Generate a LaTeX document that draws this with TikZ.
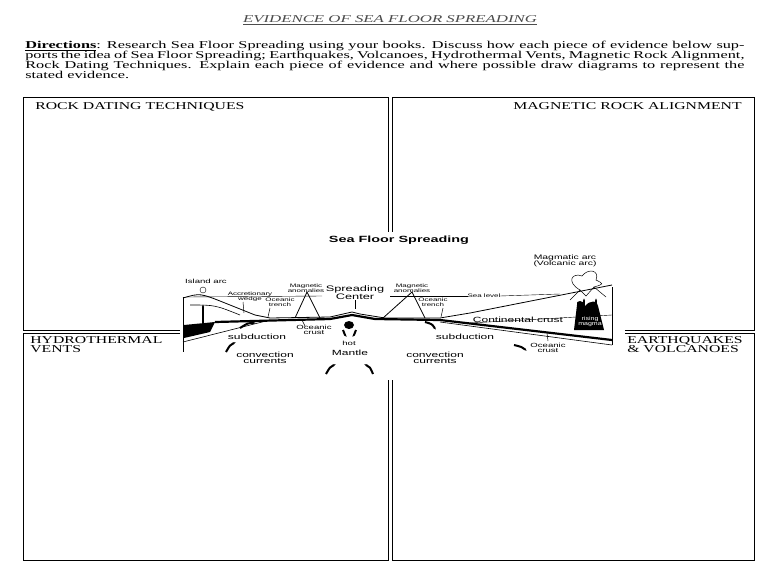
\documentclass[tikz,border=0pt]{standalone}
\usepackage{fontspec}
\setmainfont{Liberation Serif}
\setsansfont{Liberation Sans}
\usepackage{tikz}
\usetikzlibrary{arrows.meta}

\tikzset{
  boxlabel/.style={font=\fontsize{10.5}{9.5}\selectfont, inner sep=0pt, xscale=1.5},
  figlabel/.style={font=\sffamily\fontsize{5}{5}\selectfont, align=center, inner sep=0pt, xscale=1.6},
  biglabel/.style={figlabel, font=\sffamily\fontsize{7.5}{6.5}\selectfont},
  pointer/.style={line width=0.5pt},
  current/.style={line width=2pt, -{Latex[length=3pt]}}
}

\begin{document}
\begin{tikzpicture}[x=1pt, y=-1pt]
  % Page frame
  \useasboundingbox (0,0) rectangle (768,576);
  \fill[white] (0,0) rectangle (768,576);
  % Header
  \node[font=\itshape\fontsize{10.5}{10}\selectfont, text=black!70, xscale=1.6] (title) at (390,20) {\underline{EVIDENCE OF SEA FLOOR SPREADING}};
  \node[anchor=north west, inner sep=0pt, text width=464pt, align=justify, xscale=1.55,
        font=\fontsize{10.5}{10}\selectfont] (directions) at (25,41)
       {\textbf{\underline{Directions}}: Research Sea Floor Spreading using your books. Discuss how each piece of evidence below supports the idea of Sea Floor Spreading; Earthquakes, Volcanoes, Hydrothermal Vents, Magnetic Rock Alignment, Rock Dating Techniques. Explain each piece of evidence and where possible draw diagrams to represent the stated evidence.};
  % Four answer boxes
  \draw[line width=0.8pt] (23,97) rectangle (388,330);
  \draw[line width=0.8pt] (392,97) rectangle (754,330);
  \draw[line width=0.8pt] (23,333) rectangle (388,560);
  \draw[line width=0.8pt] (392,333) rectangle (754,560);
  \node[boxlabel, anchor=north west] (rock) at (35,102) {ROCK DATING TECHNIQUES};
  \node[boxlabel, anchor=north east] (magnetic) at (742,102) {MAGNETIC ROCK ALIGNMENT};
  \node[boxlabel, anchor=north west, align=left] (hydro) at (30,336) {HYDROTHERMAL\\VENTS};
  \node[boxlabel, anchor=north west, align=left] (quake) at (627,336) {EARTHQUAKES\\\& VOLCANOES};
  % Diagram panel
  \fill[white] (180,232) rectangle (625,380);
  \node[font=\sffamily\bfseries\fontsize{9}{9}\selectfont, xscale=1.6] (figtitle) at (399,240) {Sea Floor Spreading};
  % Cross-section frame
  \draw[line width=0.8pt] (183,297) -- (183,352);
  \draw[line width=0.8pt] (612,287) -- (612,345);
  % Sea level
  \draw[line width=0.4pt] (186,297) -- (322,296);
  \draw[line width=0.4pt] (390,296) -- (468,296);
  \draw[line width=0.4pt] (500,296) -- (560,294);
  % Sea floor and continent
  \draw[line width=0.8pt] (183,298) .. controls (200,293) .. (225,303) -- (255,315) -- (270,318)
        -- (330,317) -- (352,312) -- (360,314) -- (385,318) -- (440,318) -- (470,313) -- (612,285);
  \draw[line width=0.6pt] (190,305) .. controls (215,305) .. (240,315);
  % Oceanic crust band
  \draw[line width=2.2pt] (215,322) -- (330,319) -- (352,315) -- (375,319) -- (440,320) -- (612,340);
  \draw[line width=0.6pt] (270,320) -- (183,342);
  \draw[line width=0.6pt] (440,322) -- (612,345);
  \draw[line width=0.4pt] (470,323) -- (612,315);
  % Island arc side
  \fill[black] (184,325) -- (215,322) -- (210,332) -- (184,338) -- cycle;
  \draw[current] (203,325) -- (203,304);
  \draw (203,290) circle (3pt);
  % Magnetic anomalies
  \draw[line width=0.8pt] (295,318) -- (307,292) -- (320,318);
  \draw[line width=0.8pt] (383,318) -- (412,292) -- (425,318);
  % Hot mantle plume
  \fill[black] (349,325) ellipse (5pt and 4pt);
  % Volcanoes and rising magma
  \draw[line width=0.5pt] (570,300) -- (580,290) -- (586,296) -- (594,287) -- (606,297);
  \draw[line width=0.5pt] (580,290) .. controls (566,282) and (572,272) .. (582,276)
        .. controls (588,268) and (600,270) .. (596,280) .. controls (604,284) .. (594,287);
  \fill[black] (577,305) .. controls (575,300) and (584,299) .. (585,306)
        .. controls (590,300) and (598,300) .. (598,306) -- (604,330) -- (574,330) -- cycle;
  \draw[current] (584,312) -- (584,298);
  \draw[current] (596,312) -- (596,298);
  % Convection currents
  \draw[current] (226,352) .. controls (230,345) .. (236,342);
  \draw[current] (240,328) .. controls (248,323) .. (256,323);
  \draw[current] (326,374) .. controls (330,367) .. (336,364);
  \draw[current] (373,374) .. controls (370,367) .. (364,364);
  \draw[current] (343,330) .. controls (345,335) .. (347,337);
  \draw[current] (356,330) .. controls (354,335) .. (352,337);
  \draw[current] (425,322) .. controls (432,324) .. (436,330);
  \draw[current] (514,345) .. controls (522,347) .. (527,351);
  % Pointers
  \draw[pointer] (355,300) -- (355,309);
  \draw[pointer] (270,308) -- (268,317);
  \draw[pointer] (443,308) -- (441,317);
  \draw[pointer] (243,302) -- (244,313);
  \draw[pointer] (305,326) -- (302,320);
  \draw[pointer] (548,341) -- (547,333);
  % Labels
  \node[figlabel, font=\sffamily\fontsize{6}{6}\selectfont] (island) at (206,281) {Island arc};
  \node[figlabel] (wedge) at (250,297) {Accretionary\\wedge};
  \node[figlabel] (trenchl) at (280,302) {Oceanic\\trench};
  \node[figlabel] (anoml) at (306,288) {Magnetic\\anomalies};
  \node[biglabel, font=\sffamily\fontsize{8}{6.5}\selectfont] (center) at (355,293) {Spreading\\Center};
  \node[figlabel] (anomr) at (412,288) {Magnetic\\anomalies};
  \node[figlabel] (trenchr) at (433,302) {Oceanic\\trench};
  \node[figlabel] (sealevel) at (484,296) {Sea level};
  \node[biglabel] (continent) at (518,320) {Continental crust};
  \node[biglabel, font=\sffamily\fontsize{6.5}{6.5}\selectfont] (magmatic) at (565,261) {Magmatic arc\\(Volcanic arc)};
  \node[figlabel, font=\sffamily\fontsize{6}{5.5}\selectfont] (crustl) at (314,330) {Oceanic\\crust};
  \node[figlabel, font=\sffamily\fontsize{6}{6}\selectfont] (hot) at (349,343) {hot};
  \node[biglabel] (mantle) at (350,353) {Mantle};
  \node[biglabel] (subl) at (257,337) {subduction};
  \node[biglabel] (subr) at (465,337) {subduction};
  \node[biglabel] (convl) at (265,358) {convection\\currents};
  \node[biglabel] (convr) at (435,358) {convection\\currents};
  \node[figlabel, font=\sffamily\fontsize{6}{5.5}\selectfont] (crustr) at (548,348) {Oceanic\\crust};
  \node[figlabel, font=\sffamily\fontsize{5.5}{5}\selectfont, text=white, xscale=0.8] (magma) at (590,322) {rising\\magma};
\end{tikzpicture}
\end{document}
